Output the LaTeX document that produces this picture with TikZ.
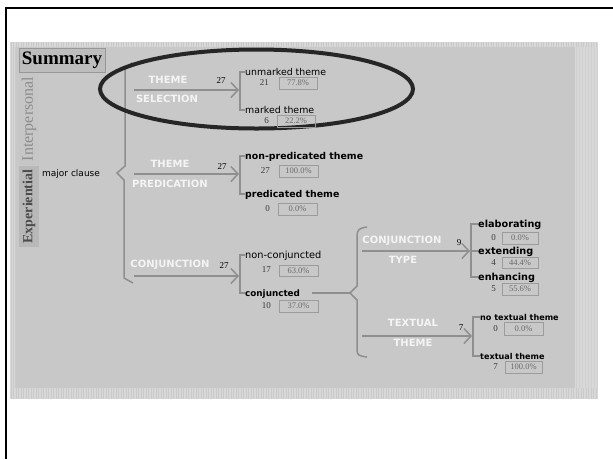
\documentclass[tikz,border=0pt]{standalone}
\usepackage{fontspec}
\setmainfont{Liberation Serif}
\newfontfamily\vsans{DejaVu Sans}
\usetikzlibrary{arrows.meta}
\definecolor{outerc}{HTML}{D8D8D8}
\definecolor{stripec}{HTML}{CACACA}
\definecolor{panel}{HTML}{C8C8C8}
\definecolor{lgray}{HTML}{8F8F8F}
\definecolor{boxc}{HTML}{9C9C9C}
\definecolor{pctc}{HTML}{6A6A6A}
\definecolor{numc}{HTML}{3A3A3A}
\definecolor{capc}{HTML}{F4F4F4}
\definecolor{sumbg}{HTML}{BDBDBD}
\definecolor{interbg}{HTML}{C6C6C6}
\definecolor{expbg}{HTML}{B8B8B8}
\definecolor{ellc}{HTML}{262626}
\begin{document}
\begin{tikzpicture}[x=1pt,y=-1pt,
  conn/.style={draw=lgray, line width=1.5pt},
  arr/.style={conn, -{Straight Barb[length=7pt,width=15pt,line width=1.5pt]}},
  lab/.style={font=\vsans\fontsize{#1}{#1}\selectfont, inner sep=0pt, anchor=west, text height=7pt, text depth=0pt},
  labb/.style={font=\vsans\bfseries\fontsize{#1}{#1}\selectfont, inner sep=0pt, anchor=west, text height=7pt, text depth=0pt},
  numlab/.style={font=\fontsize{9}{10}\selectfont, inner sep=0pt, anchor=east, text=numc},
  cntlab/.style={font=\fontsize{9}{10}\selectfont, inner sep=0pt, text=black},
  pbox/.style={draw=boxc, line width=0.8pt, minimum width=#1, minimum height=12pt, inner sep=0pt, font=\fontsize{8.5}{9}\selectfont, text=pctc},
  pbox/.default=38pt,
  arrcap/.style={font=\vsans\bfseries\fontsize{10}{11}\selectfont, text=capc, inner sep=0pt}
]
\useasboundingbox (0,0) rectangle (613,459);
\fill[white] (0,0) rectangle (613,459);
% panel
\fill[outerc] (10,42) rectangle (598,399);
\foreach \x in {11,13.5,...,597} {
  \draw[stripec, line width=0.7pt] (\x,42) -- (\x,47);
  \draw[stripec, line width=0.7pt] (\x,388) -- (\x,399);
}
\foreach \x in {11,13.5,15} { \draw[stripec, line width=0.7pt] (\x,47) -- (\x,388); }
\foreach \x in {576,579,...,597} { \draw[stripec!60!outerc, line width=0.7pt] (\x,47) -- (\x,388); }
\fill[panel] (16,47) rectangle (575,388);
% frame
\draw[line width=2pt] (6,459) -- (6,8) -- (613,8);
% tabs
\node[fill=sumbg, draw=sumbg!80!black, line width=0.5pt, minimum width=86pt, minimum height=24pt, inner sep=0pt, font=\bfseries\fontsize{19}{20}\selectfont] (summary) at (62,60) {Summary};
\node[fill=interbg, minimum width=20pt, minimum height=92pt, inner sep=0pt] (intertab) at (29,119) {};
\node[rotate=90, text=black!45, font=\fontsize{16}{16}\selectfont, inner sep=0pt] (inter) at (29,119) {Interpersonal};
\node[fill=expbg, minimum width=20pt, minimum height=81pt, inner sep=0pt] (exptab) at (29,206.5) {};
\node[rotate=90, text=black!70, font=\bfseries\fontsize{14}{14}\selectfont, inner sep=0pt] (exp) at (29,206.5) {Experiential};
\node[lab=9] (major) at (42,173) {major clause};
% main brace
\coordinate (b1) at (132,63);
\coordinate (b2) at (125,69);
\coordinate (b3) at (125,166);
\coordinate (bp) at (117,173);
\coordinate (b4) at (124,180);
\coordinate (b5) at (124,278);
\coordinate (b6) at (133,283);
\draw[conn, line join=miter] (b1) -- (b2) -- (b3) -- (bp) -- (b4) -- (b5) -- (b6);
% ellipse
\draw[ellc, line width=4pt] (256.5,89) ellipse [x radius=156.5pt, y radius=39.5pt];
% ---- Theme selection
\coordinate (sa) at (134,90);
\coordinate (se) at (239,90);
\draw[arr] (sa) -- (se);
\node[arrcap] (selT) at (168,80) {THEME};
\node[arrcap] (selS) at (167,99) {SELECTION};
\node[cntlab] (selN) at (221,81) {27};
\node[lab=9.4] (ua) at (245,72) {unmarked theme};
\node[lab=9.4] (ma) at (245,110) {marked theme};
\draw[conn] (ua.west) -- ++(-5,0) |- (ma.west);
\node[numlab] (n21) at (269,83) {21};
\node[pbox] (p1) at (298,83) {77.8\%};
\node[numlab] (n6) at (269,121) {6};
\node[pbox] (p2) at (296,121) {22.2\%};
% ---- Theme predication
\coordinate (pa) at (134,174);
\coordinate (pe) at (239,174);
\draw[arr] (pa) -- (pe);
\node[arrcap] (prT) at (170,164) {THEME};
\node[arrcap] (prP) at (170,184) {PREDICATION};
\node[cntlab] (prN) at (222,167) {27};
\node[labb=9.4] (npt) at (245,156) {non-predicated theme};
\node[labb=9.4] (pt) at (245,194) {predicated theme};
\draw[conn] (npt.west) -- ++(-5,0) |- (pt.west);
\node[numlab] (n27) at (270,171) {27};
\node[pbox=39pt] (p3) at (298.5,171) {100.0\%};
\node[numlab] (n0a) at (270,209) {0};
\node[pbox=39pt] (p4) at (297.5,209) {0.0\%};
% ---- Conjunction
\coordinate (ca) at (134,276);
\coordinate (ce) at (239,276);
\draw[arr] (ca) -- (ce);
\node[arrcap] (cjT) at (170,265) {CONJUNCTION};
\node[cntlab] (cjN) at (224,266) {27};
\node[lab=9.8] (nc) at (245,255) {non-conjuncted};
\node[labb=8.8] (cj) at (245,293) {conjuncted};
\draw[conn] (nc.west) -- ++(-5,0) |- (cj.west);
\node[numlab] (n17) at (271,270) {17};
\node[pbox=39pt, minimum height=11pt] (p5) at (298.5,270.5) {63.0\%};
\node[numlab] (n10) at (271,306) {10};
\node[pbox=39pt] (p6) at (298.5,306) {37.0\%};
% brace 2
\coordinate (cb0) at (312,293);
\coordinate (cbp) at (350,293);
\draw[conn] (cb0) -- (cbp);
\coordinate (c1) at (367,227);
\coordinate (c2) at (357,286);
\coordinate (c3) at (357,300);
\coordinate (c4) at (367,357);
\draw[conn, line join=miter] (c1) .. controls (359,228) and (357,230) .. (357,236) -- (c2) -- (cbp) -- (c3) -- (357,350) .. controls (357,355) and (359,356) .. (c4);
% ---- Conjunction type
\coordinate (ta) at (362,251);
\coordinate (te) at (470,251);
\draw[arr] (ta) -- (te);
\node[arrcap] (ctC) at (402,241) {CONJUNCTION};
\node[arrcap] (ctT) at (403,260) {TYPE};
\node[cntlab] (ctN) at (459,243) {9};
\node[labb=9.7] (el) at (478,224) {elaborating};
\node[labb=9.7] (ex) at (478,251) {extending};
\node[labb=9.7] (en) at (478,277) {enhancing};
\draw[conn] (el.west) -- ++(-7,0) |- (en.west);
\draw[conn] (te) -- (ex.west);
\node[numlab] (n0b) at (496,238) {0};
\node[pbox=36pt] (p7) at (520,238) {0.0\%};
\node[numlab] (n4) at (496,262.5) {4};
\node[pbox=36pt, minimum height=11pt] (p8) at (520,262.5) {44.4\%};
\node[numlab] (n5) at (496,289) {5};
\node[pbox=36pt] (p9) at (520,289) {55.6\%};
% ---- Textual theme
\coordinate (xa) at (362,336);
\coordinate (xe) at (472,336);
\draw[arr] (xa) -- (xe);
\node[arrcap] (txT) at (413,323) {TEXTUAL};
\node[arrcap] (txH) at (413,343) {THEME};
\node[cntlab] (txN) at (461,328) {7};
\node[labb=8.1] (ntt) at (480,317) {no textual theme};
\node[labb=8.1] (tt) at (480,356) {textual theme};
\draw[conn] (ntt.west) -- ++(-7,0) |- (tt.west);
\node[numlab] (n0c) at (498,328.5) {0};
\node[pbox=39pt, minimum height=13pt] (p10) at (523.5,328.5) {0.0\%};
\node[numlab] (n7) at (498,367) {7};
\node[pbox=37pt] (p11) at (523.5,367) {100.0\%};
\end{tikzpicture}
\end{document}
